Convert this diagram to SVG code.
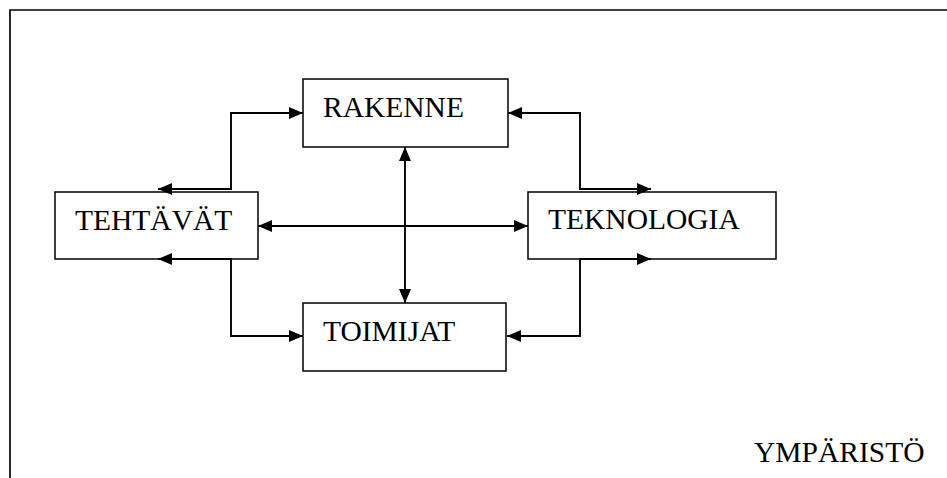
<svg xmlns="http://www.w3.org/2000/svg" width="947" height="478" viewBox="0 0 947 478">
  <style>
    .box { fill: #fff; stroke: #000; stroke-width: 1.5; }
    .lbl { font-family: "Liberation Serif", "Times New Roman", serif; font-size: 29.5px; fill: #000; }
    .wire { fill: none; stroke: #000; stroke-width: 1.9; }
    .frame { fill: none; stroke: #000; stroke-width: 1.7; }
  </style>
  <defs>
    <marker id="arr" viewBox="0 0 14 12" refX="14" refY="6" markerWidth="14" markerHeight="12" markerUnits="userSpaceOnUse" orient="auto-start-reverse">
      <path d="M0,0 L14,6 L0,12 Z" fill="#000"/>
    </marker>
  </defs>

  <!-- environment frame (open at right and bottom) -->
  <path class="frame" d="M10,478 V10 H947"/>

  <g id="rakenne">
    <rect class="box" x="303" y="79" width="205" height="68"/>
    <text class="lbl" x="323" y="117">RAKENNE</text>
  </g>

  <g id="tehtavat">
    <rect class="box" x="55" y="192" width="203" height="67"/>
    <text class="lbl" x="75" y="230">TEHTÄVÄT</text>
  </g>

  <g id="teknologia">
    <rect class="box" x="528" y="192" width="248" height="67"/>
    <text class="lbl" x="548" y="229">TEKNOLOGIA</text>
  </g>

  <g id="toimijat">
    <rect class="box" x="303" y="303" width="203" height="68"/>
    <text class="lbl" x="323" y="341">TOIMIJAT</text>
  </g>

  <g id="ymparisto">
    <text class="lbl" x="754" y="462">YMPÄRISTÖ</text>
  </g>

  <!-- connectors, drawn over the box edges -->
  <g id="connectors">
    <!-- TEHTÄVÄT <-> RAKENNE -->
    <path class="wire" d="M158,189 H231 V113 H303" marker-start="url(#arr)" marker-end="url(#arr)"/>
    <!-- TEHTÄVÄT <-> TOIMIJAT -->
    <path class="wire" d="M158,259 H231 V336 H303" marker-start="url(#arr)" marker-end="url(#arr)"/>
    <!-- RAKENNE <-> TEKNOLOGIA -->
    <path class="wire" d="M508,113 H580 V189 H651" marker-start="url(#arr)" marker-end="url(#arr)"/>
    <!-- TOIMIJAT <-> TEKNOLOGIA -->
    <path class="wire" d="M507,336 H580 V259 H651" marker-start="url(#arr)" marker-end="url(#arr)"/>
    <!-- TEHTÄVÄT <-> TEKNOLOGIA -->
    <path class="wire" d="M258,226 H528" marker-start="url(#arr)" marker-end="url(#arr)"/>
    <!-- RAKENNE <-> TOIMIJAT -->
    <path class="wire" d="M405,147 V303" marker-start="url(#arr)" marker-end="url(#arr)"/>
  </g>
</svg>
